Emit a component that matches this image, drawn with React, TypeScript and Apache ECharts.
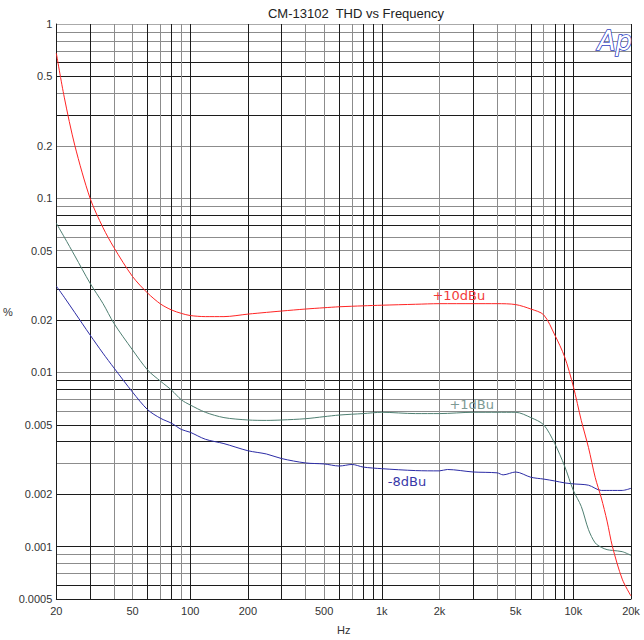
import React, { useEffect, useRef } from "react";
import * as echarts from "echarts";

// +10dBu
const redFreq = [20, 22, 25, 30, 35, 40, 50, 60, 70, 80, 90, 100, 120, 150, 200, 250, 300, 400, 500, 600, 800, 1000, 1500, 2000, 3000, 4000, 5000, 6000, 7000, 8000, 9000, 10000, 11000, 12000, 13000, 14000, 15000, 16000, 18000, 20000];
const redThd = [0.68, 0.38, 0.2, 0.1, 0.068, 0.052, 0.0355, 0.0285, 0.0247, 0.0228, 0.0218, 0.0212, 0.0209, 0.0209, 0.0216, 0.0221, 0.0225, 0.0231, 0.0235, 0.0238, 0.0241, 0.0243, 0.0246, 0.0248, 0.0248, 0.0248, 0.0245, 0.0231, 0.0214, 0.0164, 0.0123, 0.0083, 0.0053, 0.0037, 0.0025, 0.0019, 0.0014, 0.001, 0.00065, 0.00052];

// +1dBu
const greenFreq = [20, 22, 25, 30, 35, 40, 50, 60, 70, 80, 90, 100, 120, 150, 200, 250, 300, 400, 500, 600, 800, 1000, 1500, 2000, 3000, 4000, 5000, 6000, 7000, 8000, 9000, 10000, 11000, 12000, 13000, 14000, 15000, 16000, 18000, 20000];
const greenThd = [0.0718, 0.0598, 0.0466, 0.0325, 0.0249, 0.0191, 0.01345, 0.0103, 0.0089, 0.0079, 0.00695, 0.0065, 0.0059, 0.0055, 0.00533, 0.0053, 0.00533, 0.00542, 0.00557, 0.00569, 0.0058, 0.0059, 0.0058, 0.0058, 0.0059, 0.0059, 0.0059, 0.0055, 0.005, 0.0039, 0.0029, 0.0021, 0.0017, 0.00125, 0.00105, 0.00099, 0.00096, 0.00095, 0.000935, 0.00089];

// -8dBu
const blueFreq = [20, 22, 25, 30, 35, 40, 50, 60, 70, 80, 90, 100, 120, 150, 200, 250, 300, 400, 500, 600, 700, 800, 1000, 1500, 2000, 2200, 3000, 4000, 4300, 5000, 6000, 7000, 8000, 9000, 10000, 12000, 14000, 16000, 18000, 20000];
const blueThd = [0.0313, 0.027, 0.022, 0.0164, 0.0129, 0.0106, 0.0077, 0.0061, 0.00545, 0.0051, 0.0047, 0.00453, 0.00413, 0.0039, 0.00355, 0.0034, 0.0032, 0.00302, 0.00298, 0.0029, 0.00296, 0.00286, 0.0028, 0.00273, 0.00272, 0.00277, 0.00268, 0.00265, 0.00258, 0.00268, 0.0025, 0.00244, 0.00238, 0.00232, 0.00229, 0.00225, 0.0021, 0.0021, 0.0021, 0.00216];

const seriesNames = ["+10dBu", "+1dBu", "-8dBu"];
// label anchor [Hz, %]
const labelAnchors = [[2524, 0.02745], [2948, 0.0065], [1354, 0.00235]];

const xTickValues = [20, 30, 40, 50, 60, 70, 80, 90, 100, 200, 300, 400, 500, 600, 700, 800, 900, 1000, 2000, 3000, 4000, 5000, 6000, 7000, 8000, 9000, 10000, 20000];
const xLabelValues = [20, 50, 100, 200, 500, 1000, 2000, 5000, 10000, 20000];
const yTickValues = [0.0005, 0.0006, 0.0007, 0.0008, 0.0009, 0.001, 0.002, 0.003, 0.004, 0.005, 0.006, 0.007, 0.008, 0.009, 0.01, 0.02, 0.03, 0.04, 0.05, 0.06, 0.07, 0.08, 0.09, 0.1, 0.2, 0.3, 0.4, 0.5, 0.6, 0.7, 0.8, 0.9, 1];
const yLabelValues = [0.0005, 0.001, 0.002, 0.005, 0.01, 0.02, 0.05, 0.1, 0.2, 0.5, 1];

const D = "#1c1c1c";
const G = "#8c8c8c";
const xGridColors = [D, D, G, G, D, G, D, G, D, D, D, G, G, D, G, D, D, D, G, D, G, G, D, G, D, D, D, D];
const yGridColors = [D, D, G, G, G, D, D, G, D, D, G, G, D, D, G, D, D, D, G, G, D, D, G, G, G, D, G, D, D, G, G, G, "#aaaaaa"];

const lineColors = ["#ff2424", "#4f7f72", "#2c2ca6"];
const labelColors = ["#f23a3a", "#7d9a94", "#3838a8"];

function pairs(f: number[], v: number[]) {
  return f.map((x, i) => [x, v[i]]);
}

export default function App() {
  const ref = useRef<HTMLDivElement>(null);
  useEffect(() => {
    const chart = echarts.init(ref.current!, null, { renderer: "svg" });
    const datasets = [pairs(redFreq, redThd), pairs(greenFreq, greenThd), pairs(blueFreq, blueThd)];
    chart.setOption({
      animation: false,
      backgroundColor: "#ffffff",
      textStyle: { fontFamily: "Liberation Sans, Arial, sans-serif" },
      grid: { left: 54, top: 24, width: 577, height: 575, containLabel: false },
      xAxis: {
        type: "log",
        logBase: 10,
        min: 20,
        max: 20000,
        name: "Hz",
        nameLocation: "middle",
        nameGap: 25,
        nameTextStyle: { color: "#333", fontSize: 11 },
        axisLine: { show: true, lineStyle: { color: D, width: 1 } },
        axisTick: { show: false, customValues: xTickValues },
        axisLabel: {
          customValues: xLabelValues,
          margin: 6,
          color: "#333",
          fontSize: 11,
          formatter: (v: number) => (v >= 1000 ? Math.round(v / 1000) + "k" : String(Math.round(v))),
        },
        splitLine: { show: true, lineStyle: { color: xGridColors, width: 1 } },
        minorSplitLine: { show: false },
      },
      yAxis: {
        type: "log",
        logBase: 10,
        min: 0.0005,
        max: 1,
        name: "%",
        nameLocation: "middle",
        nameRotate: 0,
        nameGap: 39,
        nameTextStyle: { color: "#333", fontSize: 11 },
        axisLine: { show: true, lineStyle: { color: D, width: 1 } },
        axisTick: { show: false, customValues: yTickValues },
        axisLabel: {
          customValues: yLabelValues,
          margin: 4,
          color: "#333",
          fontSize: 11,
          formatter: (v: number) => String(Number(v.toPrecision(2))),
        },
        splitLine: { show: true, lineStyle: { color: yGridColors, width: 1 } },
      },
      graphic: [
        {
          type: "text",
          x: 356,
          y: 13,
          style: {
            text: "CM-13102  THD vs Frequency",
            fontFamily: "Liberation Sans, Arial, sans-serif",
            fontSize: 13,
            fill: "#222",
            textAlign: "center",
            textVerticalAlign: "middle",
          },
        },
        {
          type: "text",
          x: 632,
          y: 41,
          z: 100,
          style: {
            text: "Ap",
            fontFamily: "DejaVu Sans, sans-serif",
            fontStyle: "italic",
            fontSize: 26,
            fill: "#ffffff",
            stroke: "#2f3fc0",
            lineWidth: 1.6,
            textAlign: "right",
            textVerticalAlign: "middle",
          },
        },
      ],
      series: datasets.map((d, i) => ({
        type: "line",
        name: seriesNames[i],
        data: d,
        showSymbol: false,
        symbol: "none",
        smooth: 0.3,
        lineStyle: { color: lineColors[i], width: 1 },
        z: 10 - i,
        markPoint: {
          symbol: "circle",
          symbolSize: 0,
          silent: true,
          data: [
            {
              coord: labelAnchors[i],
              label: {
                show: true,
                position: "inside",
                formatter: seriesNames[i],
                color: labelColors[i],
                fontSize: 13,
                fontFamily: "DejaVu Sans, sans-serif",
              },
            },
          ],
        },
      })),
    });
    return () => chart.dispose();
  }, []);
  return (
    <div
      ref={ref}
      style={{ position: "fixed", left: 0, top: 0, width: 644, height: 640, background: "#fff" }}
    />
  );
}
